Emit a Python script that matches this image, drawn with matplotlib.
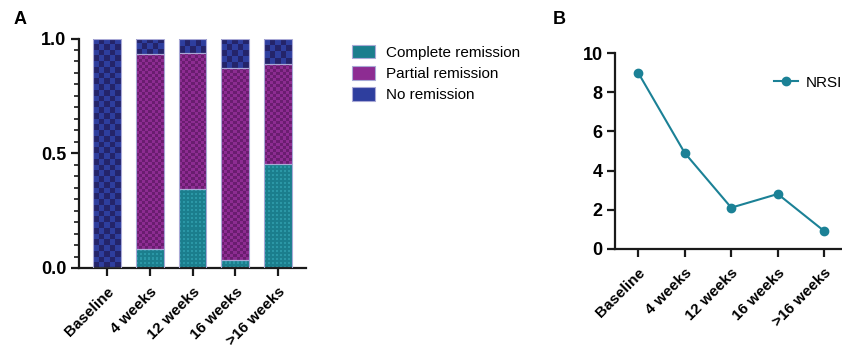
import matplotlib
matplotlib.use('Agg')
import matplotlib.pyplot as plt
import numpy as np
from matplotlib.colors import ListedColormap
from matplotlib.patches import Patch
from matplotlib.lines import Line2D
from matplotlib.ticker import MultipleLocator, FormatStrFormatter

plt.rcParams['font.family'] = ['Liberation Sans', 'DejaVu Sans']

# data
timepoints = ['Baseline', '4 weeks', '12 weeks', '16 weeks', '>16 weeks']
complete = [0.0, 0.081, 0.343, 0.035, 0.452]
partial = [0.0, 0.851, 0.595, 0.838, 0.437]
no_rem = [1.0, 0.068, 0.062, 0.127, 0.111]
nrsi = [9.0, 4.9, 2.1, 2.8, 0.9]

teal = '#1b7e8d'
teal_dot = '#2b97a6'
mag = '#8d2c92'
mag_dark = '#6a1d70'
navy = '#24246a'
navy_light = '#2e3e9e'
edge = '#a9a9d6'

W, H = 842, 345
fig = plt.figure(figsize=(W / 100, H / 100), dpi=100)

axA = fig.add_axes([79 / W, 1 - 268 / H, 227 / W, 229.5 / H])
axB = fig.add_axes([615 / W, 1 - 248.7 / H, 232.5 / W, 195.4 / H])

x = np.arange(len(timepoints))
bw = 0.65
xlimA = (-0.65, 4.65)
px_x = 227 / (xlimA[1] - xlimA[0])
px_y = 229.5


def fill_pattern(ax, bar, c1, c2, cell, kind):
    x0, y0 = bar.get_x(), bar.get_y()
    w, h = bar.get_width(), bar.get_height()
    if h <= 0:
        return
    nx = max(1, int(round(w * px_x / cell)))
    ny = max(1, int(round(h * px_y / cell)))
    j, i = np.meshgrid(np.arange(nx), np.arange(ny))
    if kind == 'checker':
        grid = (i + j) % 2
    else:
        grid = ((i % 2 == 0) & (j % 2 == 0)).astype(int)
    im = ax.imshow(grid, extent=(x0, x0 + w, y0, y0 + h), origin='lower',
                   cmap=ListedColormap([c1, c2]), vmin=0, vmax=1,
                   interpolation='nearest', aspect='auto', zorder=2)
    im.set_clip_path(bar)


bottoms2 = np.array(complete)
bottoms3 = bottoms2 + np.array(partial)
b1 = axA.bar(x, complete, bw, color=teal, zorder=1)
b2 = axA.bar(x, partial, bw, bottom=bottoms2, color=mag, zorder=1)
b3 = axA.bar(x, no_rem, bw, bottom=bottoms3, color=navy, zorder=1)
for b in b1:
    fill_pattern(axA, b, teal, teal_dot, 2.0, 'dots')
for b in b2:
    fill_pattern(axA, b, mag, mag_dark, 3.0, 'checker')
for b in b3:
    fill_pattern(axA, b, navy, navy_light, 5.7, 'checker')
for vals, bot in [(complete, 0), (partial, bottoms2), (no_rem, bottoms3)]:
    axA.bar(x, vals, bw, bottom=bot, fill=False, edgecolor=edge,
            linewidth=0.8, zorder=3)

axA.set_xlim(*xlimA)
axA.set_ylim(0, 1)
axA.yaxis.set_major_locator(MultipleLocator(0.5))
axA.yaxis.set_minor_locator(MultipleLocator(0.05))
axA.yaxis.set_major_formatter(FormatStrFormatter('%.1f'))

axB.plot(x, nrsi, color='#1b8196', lw=1.5, marker='o', ms=6, clip_on=False,
         zorder=3)
axB.set_xlim(-0.5, 4.5)
axB.set_ylim(0, 10)
axB.set_yticks([0, 2, 4, 6, 8, 10])

for ax in (axA, axB):
    for s in ('top', 'right'):
        ax.spines[s].set_visible(False)
    for s in ('left', 'bottom'):
        ax.spines[s].set_linewidth(1.6)
        ax.spines[s].set_color('#1a1a1a')
    ax.set_xticks(x)
    ax.set_xticklabels(timepoints, rotation=45, ha='right',
                       rotation_mode='anchor', fontsize=11, fontweight='bold')
    ax.tick_params(axis='both', which='major', length=6, width=1.6,
                   color='#1a1a1a', pad=3)
    ax.tick_params(axis='y', labelsize=13)
    ax.tick_params(axis='both', which='minor', length=3.5, width=1.2,
                   color='#1a1a1a')
    ax.tick_params(axis='x', pad=6)
    for t in ax.get_yticklabels():
        t.set_fontweight('bold')

handles = [Patch(facecolor=teal, edgecolor=edge, lw=0.8),
           Patch(facecolor=mag, edgecolor=edge, lw=0.8),
           Patch(facecolor=navy_light, edgecolor=edge, lw=0.8)]
fig.legend(handles, ['Complete remission', 'Partial remission', 'No remission'],
           loc='upper left', bbox_to_anchor=(338 / W, 1 - 31 / H),
           frameon=False, fontsize=11, handlelength=1.55, handleheight=1.0,
           handletextpad=0.7, labelspacing=0.4)

fig.legend([Line2D([], [], color='#1b8196', lw=1.5, marker='o', ms=6)], ['NRSI'],
           loc='upper left', bbox_to_anchor=(760 / W, 1 - 62 / H),
           frameon=False, fontsize=11, handlelength=1.6, handletextpad=0.5)

fig.text(14 / W, 1 - 24 / H, 'A', fontsize=13, fontweight='bold')
fig.text(553 / W, 1 - 24 / H, 'B', fontsize=13, fontweight='bold')

fig.savefig('out.png', dpi=100)
